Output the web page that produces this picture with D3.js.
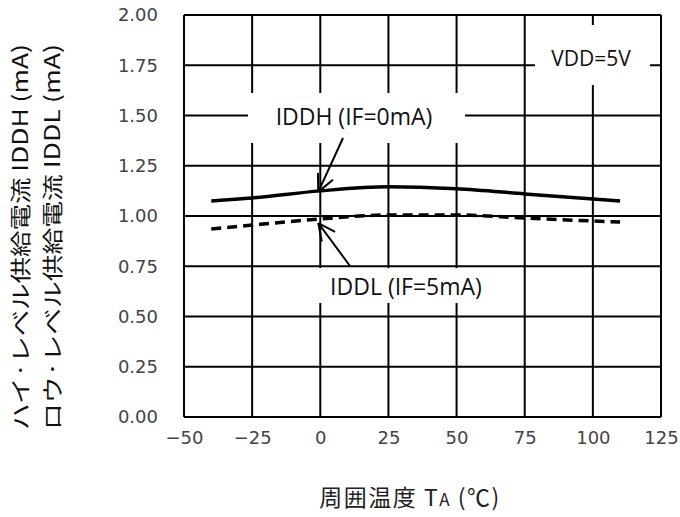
<!DOCTYPE html>
<html><head><meta charset="utf-8">
<script src="https://cdn.jsdelivr.net/npm/d3@7"></script>
<style>body{margin:0;background:#fff}svg{display:block}</style>
</head><body>
<svg id="c" width="680" height="517"></svg>
<script>
const temps = [-40, -25, 0, 25, 50, 75, 100, 110];
const iddh = [1.075, 1.09, 1.125, 1.145, 1.135, 1.11, 1.085, 1.075];
const iddl = [0.935, 0.955, 0.985, 1.005, 1.005, 0.99, 0.975, 0.97];
const xTicks = [-50, -25, 0, 25, 50, 75, 100, 125];
const yTicks = [0, 0.25, 0.5, 0.75, 1.0, 1.25, 1.5, 1.75, 2.0];
const labelH = "IDDH (IF=0mA)";
const labelL = "IDDL (IF=5mA)";
const labelV = "VDD=5V";
const yTitle1 = "ハイ·レベル供給電流 IDDH (mA)";
const yTitle2 = "ロウ·レベル供給電流 IDDL (mA)";

const svg = d3.select("#c");
const L = 184, R = 661, T = 15, B = 417;
const x = d3.scaleLinear().domain([-50, 125]).range([L, R]);
const y = d3.scaleLinear().domain([0, 2]).range([B, T]);
const tickFont = "'DejaVu Sans', sans-serif";

// grid
const g = svg.append("g");
g.selectAll("line.v").data(xTicks).join("line")
  .attr("x1", d => x(d)).attr("x2", d => x(d)).attr("y1", T).attr("y2", B)
  .attr("stroke", "#000").attr("stroke-width", 2);
g.selectAll("line.h").data(yTicks).join("line")
  .attr("y1", d => y(d)).attr("y2", d => y(d)).attr("x1", L).attr("x2", R)
  .attr("stroke", "#000").attr("stroke-width", 2);

// white boxes behind labels
svg.append("rect").attr("x", 248).attr("y", 93).attr("width", 217).attr("height", 50).attr("fill", "#fff");
svg.append("rect").attr("x", 306).attr("y", 268).attr("width", 207).attr("height", 35).attr("fill", "#fff");
svg.append("rect").attr("x", 535).attr("y", 25).attr("width", 115).attr("height", 60).attr("fill", "#fff");

// axes tick labels
const xa = svg.append("g").attr("transform", `translate(0,${B})`)
  .call(d3.axisBottom(x).tickValues(xTicks).tickSize(0).tickPadding(14).tickFormat(d3.format("d")));
xa.select(".domain").remove();
xa.selectAll("text").attr("font-family", tickFont).attr("font-size", 18).attr("fill", "#444");
const ya = svg.append("g").attr("transform", `translate(${L},0)`)
  .call(d3.axisLeft(y).tickValues(yTicks).tickSize(0).tickPadding(26).tickFormat(d3.format(".2f")));
ya.select(".domain").remove();
ya.selectAll("text").attr("font-family", tickFont).attr("font-size", 18).attr("fill", "#444");

// curves
const line = d3.line().x((d, i) => x(temps[i])).y(d => y(d)).curve(d3.curveMonotoneX);
svg.append("path").attr("d", line(iddh)).attr("fill", "none").attr("stroke", "#000").attr("stroke-width", 3.5);
svg.append("path").attr("d", line(iddl)).attr("fill", "none").attr("stroke", "#000").attr("stroke-width", 3.5)
  .attr("stroke-dasharray", "10,6");

// arrows
function arrow(x1, y1, x2, y2) {
  svg.append("line").attr("x1", x1).attr("y1", y1).attr("x2", x2).attr("y2", y2)
    .attr("stroke", "#000").attr("stroke-width", 2);
  const a = Math.atan2(y1 - y2, x1 - x2), len = 19, sp = 0.45;
  [a - sp, a + sp].forEach(b => {
    svg.append("line").attr("x1", x2).attr("y1", y2)
      .attr("x2", x2 + len * Math.cos(b)).attr("y2", y2 + len * Math.sin(b))
      .attr("stroke", "#000").attr("stroke-width", 2);
  });
}
arrow(343, 138, x(0) - 2, y(iddh[2]) + 1);
arrow(350, 266, x(0) - 2, y(iddl[2]) + 4);

// labels
const lf = "'Open Sans', sans-serif";
svg.append("text").attr("x", 354).attr("y", 125).attr("text-anchor", "middle")
  .attr("font-family", lf).attr("font-size", 23).attr("fill", "#111").text(labelH);
svg.append("text").attr("x", 406).attr("y", 295).attr("text-anchor", "middle")
  .attr("font-family", lf).attr("font-size", 23).attr("fill", "#111").text(labelL);
svg.append("text").attr("x", 591).attr("y", 66).attr("text-anchor", "middle")
  .attr("font-family", lf).attr("font-size", 21).attr("fill", "#111").text(labelV);

// axis titles
const jf = "'Noto Sans CJK JP', sans-serif";
const xt = svg.append("text").attr("x", 410).attr("y", 506).attr("text-anchor", "middle")
  .attr("font-family", jf).attr("font-size", 23).attr("letter-spacing", 1.5).attr("fill", "#222");
xt.append("tspan").text("周囲温度 T");
xt.append("tspan").attr("font-size", 17).text("A");
xt.append("tspan").text(" (℃)");
[[25, yTitle1], [57, yTitle2]].forEach(([cx, t]) => {
  svg.append("text").attr("transform", `translate(${cx + 3},237) rotate(-90)`)
    .attr("text-anchor", "middle").attr("font-family", jf).attr("font-size", 21)
    .attr("fill", "#111").attr("textLength", 386).attr("lengthAdjust", "spacingAndGlyphs").text(t);
});
</script>
</body></html>
